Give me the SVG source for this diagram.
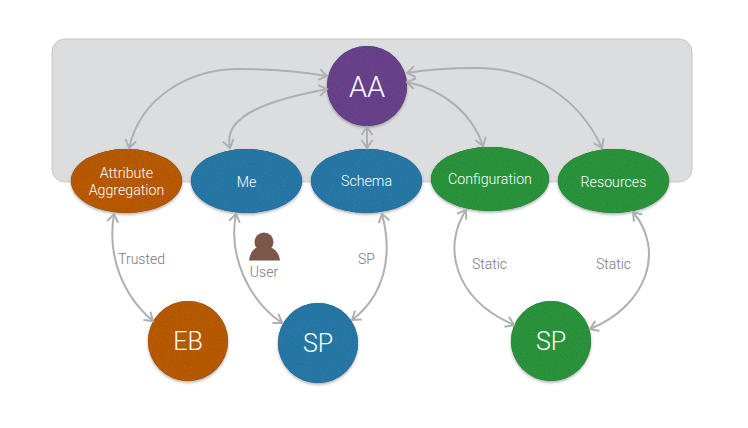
<svg xmlns="http://www.w3.org/2000/svg" width="748" height="428" viewBox="0 0 748 428">
<style>
text{font-family:"Roboto","Liberation Sans",sans-serif;font-weight:300;text-anchor:middle}
.n{fill:#fff;font-size:14.200px}
.b{fill:#fff;font-size:29px}
.m{fill:#fff;font-size:25px}
.l{fill:#77777d;font-size:14px}
.c{fill:none;stroke:#aeb0b0;stroke-width:2;marker-start:url(#a);marker-end:url(#a)}
.or{fill:#bd5d0c}.bl{fill:#2a7bac}.gr{fill:#2e983f}.pu{fill:#6c4490}
.s{filter:url(#sh)}
</style>
<defs>
<filter id="sh" x="-20%" y="-20%" width="140%" height="140%">
<feTurbulence type="fractalNoise" baseFrequency="0.9" numOctaves="2" seed="4" result="t"/>
<feColorMatrix in="t" type="matrix" values="0 0 0 0 0  0 0 0 0 0  0 0 0 0 0  0 0 0 .35 -.08" result="g"/>
<feComposite in="g" in2="SourceGraphic" operator="in" result="tx"/>
<feDropShadow in="SourceAlpha" dx="0" dy="1.500" stdDeviation="1.500" flood-color="#000" flood-opacity=".35" result="d"/>
<feMerge><feMergeNode in="d"/><feMergeNode in="SourceGraphic"/><feMergeNode in="tx"/></feMerge>
</filter>
<marker id="a" markerUnits="userSpaceOnUse" markerWidth="14" markerHeight="16" refX="11" refY="8" orient="auto-start-reverse"><path d="M3,2.500L11,8L3,13.500" fill="none" stroke="#aeb0b0" stroke-width="2"/></marker>
</defs>
<rect id="panel" x="52" y="39" width="640" height="143" rx="13" fill="#dcdddf" stroke="#c8c8c8" stroke-width="1"/>
<g id="AA"><circle class="pu s" cx="367" cy="86" r="40"/><text class="b" x="367" y="97">AA</text></g>
<g id="attribute"><ellipse class="or s" cx="126.500" cy="181" rx="55.500" ry="32"/><text class="n" x="126.500" y="178">Attribute</text><text class="n" x="126.500" y="195">Aggregation</text></g>
<g id="me"><ellipse class="bl s" cx="246.500" cy="181" rx="55.500" ry="32"/><text class="n" x="246.500" y="187">Me</text></g>
<g id="schema"><ellipse class="bl s" cx="366.500" cy="181" rx="55.500" ry="32"/><text class="n" x="366.500" y="186">Schema</text></g>
<g id="configuration"><ellipse class="gr s" cx="490" cy="179" rx="59" ry="32"/><text class="n" x="490" y="184">Configuration</text></g>
<g id="resources"><ellipse class="gr s" cx="613.500" cy="181" rx="55.500" ry="32"/><text class="n" x="613.500" y="187">Resources</text></g>
<g id="EB"><circle class="or s" cx="188" cy="341" r="40"/><text class="m" x="188" y="350">EB</text></g>
<g id="SP-blue"><circle class="bl s" cx="318" cy="343" r="40"/><text class="m" x="318" y="352">SP</text></g>
<g id="SP-green"><circle class="gr s" cx="551" cy="341" r="40"/><text class="m" x="551" y="350">SP</text></g>
<g id="connectors">
<path class="c" d="M129,148C140,100 185,69 240,69C270,69 300,71 327,76"/>
<path class="c" d="M230,148C222,115 270,100 327,89"/>
<path class="c" d="M367,127L367,148"/>
<path class="c" d="M407,82C445,90 473,115 483,146"/>
<path class="c" d="M407,73C430,69 455,68 477,68C535,68 580,100 602,148"/>
<path class="c" d="M114,214C107,255 122,295 153,321"/>
<path class="c" d="M236,214C228,255 248,300 282,323"/>
<path class="c" d="M382,214C393,255 385,295 352,320"/>
<path class="c" d="M466,210C443,245 452,298 514,325"/>
<path class="c" d="M633,212C665,250 648,305 590,329"/>
</g>
<g id="user"><circle cx="264" cy="242" r="9.500" fill="#7b5748"/><path d="M249,260.500C250,253 253,249 257,247.500C261,251 267,251 271,247.500C275,249 279,253 280,260.500Z" fill="#7b5748"/><text class="l" x="264" y="277">User</text></g>
<g id="labels">
<text class="l" x="141.500" y="264">Trusted</text>
<text class="l" x="366.500" y="264">SP</text>
<text class="l" x="489.500" y="269">Static</text>
<text class="l" x="613.500" y="269">Static</text>
</g>
</svg>
